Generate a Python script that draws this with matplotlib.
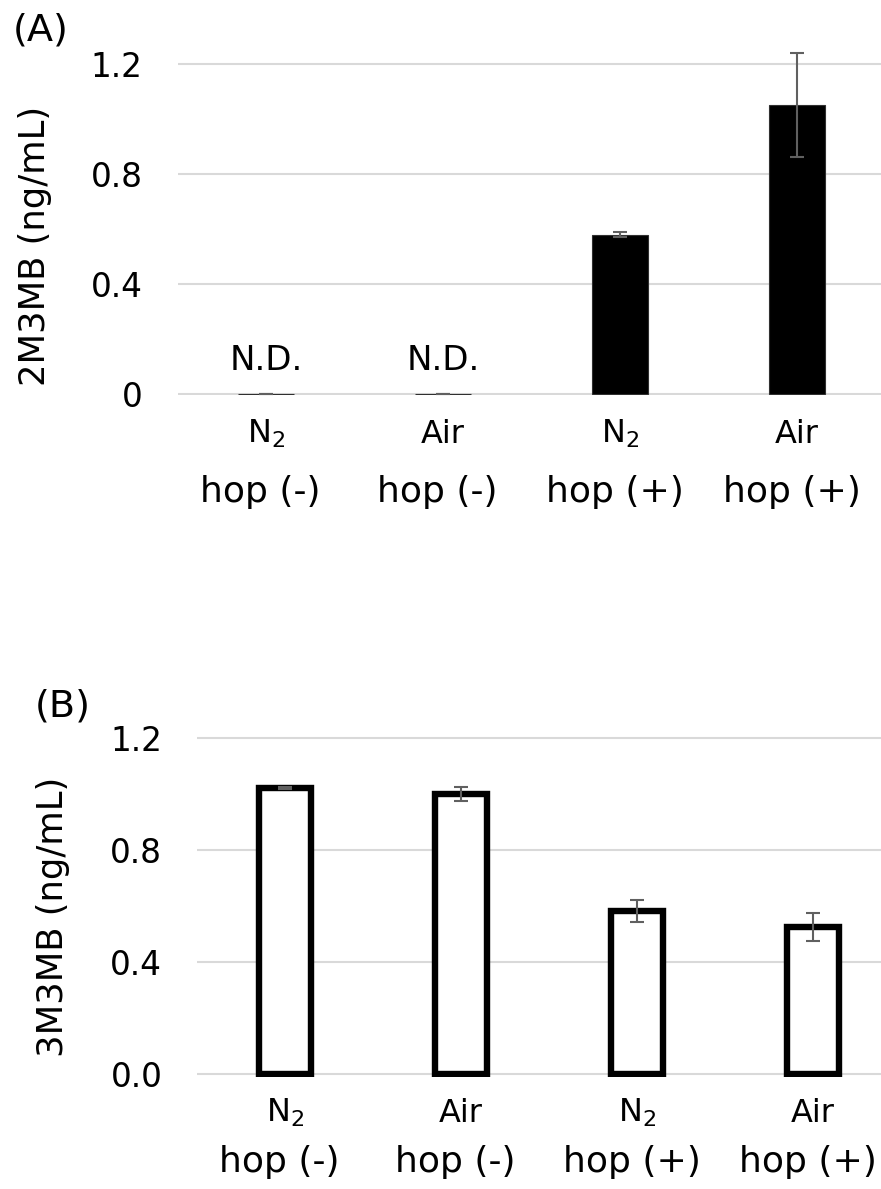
import numpy as np
import matplotlib
matplotlib.use('Agg')
import matplotlib.pyplot as plt

plt.rcParams['font.family'] = 'DejaVu Sans'
plt.rcParams['mathtext.fontset'] = 'dejavusans'

# sample groups
gas = ['N$_2$', 'Air', 'N$_2$', 'Air']
hop = ['hop (-)', 'hop (-)', 'hop (+)', 'hop (+)']

# 2M3MB, ng/mL (first two not detected)
mb2 = [0.0, 0.0, 0.58, 1.05]
mb2_err = [0.0, 0.0, 0.01, 0.19]
mb2_nd = ['N.D.', 'N.D.', '', '']

# 3M3MB, ng/mL
mb3 = [1.02, 1.0, 0.58, 0.525]
mb3_err = [0.005, 0.025, 0.04, 0.05]

W, H = 881, 1189


def place(x0, x1, zero, ppu, ymin, ymax):
    # axes rectangle from pixel positions (zero line, pixels per unit)
    bot = zero - ymin * ppu
    top = zero - ymax * ppu
    return [x0 / W, 1 - bot / H, (x1 - x0) / W, (bot - top) / H]


def style(ax, ymin, ymax, ticks, ticklabels):
    ax.set_xlim(-0.5, 3.5)
    ax.set_ylim(ymin, ymax)
    ax.set_yticks(ticks)
    ax.set_yticklabels(ticklabels)
    ax.set_xticks([])
    for s in ax.spines.values():
        s.set_visible(False)
    ax.tick_params(axis='y', length=0, pad=25, labelsize=23.5)
    ax.yaxis.grid(True, color='#d9d9d9', lw=1.5)
    ax.set_axisbelow(True)


fig = plt.figure(figsize=(W / 100, H / 100), dpi=100)
x = np.arange(4)

# (A) 2M3MB
ymin_a, ymax_a = -0.004, 1.32
axA = fig.add_axes(place(177.5, 885.5, 394, 275, ymin_a, ymax_a))
style(axA, ymin_a, ymax_a, [0, 0.4, 0.8, 1.2], ['0', '0.4', '0.8', '1.2'])
axA.bar(x, mb2, width=0.32, color='black', edgecolor='#303030', lw=0.8, zorder=2)
axA.errorbar(x, mb2, yerr=mb2_err, fmt='none', ecolor='#606060',
             elinewidth=1.5, capsize=4.7, capthick=1.5, zorder=3)
for i, t in enumerate(mb2_nd):
    if t:
        axA.text(x[i], mb2[i] + 0.087, t, ha='center', va='baseline', fontsize=24.5)
for i in x:
    axA.text(i, -0.178, gas[i], ha='center', va='baseline', fontsize=23)
    axA.text(i - 0.03, -0.393, hop[i], ha='center', va='baseline', fontsize=26)
axA.set_ylabel('2M3MB (ng/mL)', fontsize=25.5)
axA.yaxis.set_label_coords(-0.177, 0.41)

# (B) 3M3MB
ymin_b, ymax_b = -0.012, 1.32
axB = fig.add_axes(place(197, 901, 1073.7, 280, ymin_b, ymax_b))
style(axB, ymin_b, ymax_b, [0, 0.4, 0.8, 1.2], ['0.0', '0.4', '0.8', '1.2'])
axB.bar(x, mb3, width=0.30, color='white', edgecolor='black', lw=4.6, zorder=2)
axB.errorbar(x, mb3, yerr=mb3_err, fmt='none', ecolor='#606060',
             elinewidth=1.5, capsize=4.7, capthick=1.5, zorder=3)
for i in x:
    axB.text(i, -0.172, gas[i], ha='center', va='baseline', fontsize=23)
    axB.text(i - 0.03, -0.351, hop[i], ha='center', va='baseline', fontsize=26)
axB.set_ylabel('3M3MB (ng/mL)', fontsize=25.5)
axB.yaxis.set_label_coords(-0.18, 0.43)

fig.text(13 / W, 1 - 30 / H, '(A)', fontsize=27.5, va='center', ha='left')
fig.text(35 / W, 1 - 706 / H, '(B)', fontsize=27.5, va='center', ha='left')

fig.savefig('out.png', dpi=100)
